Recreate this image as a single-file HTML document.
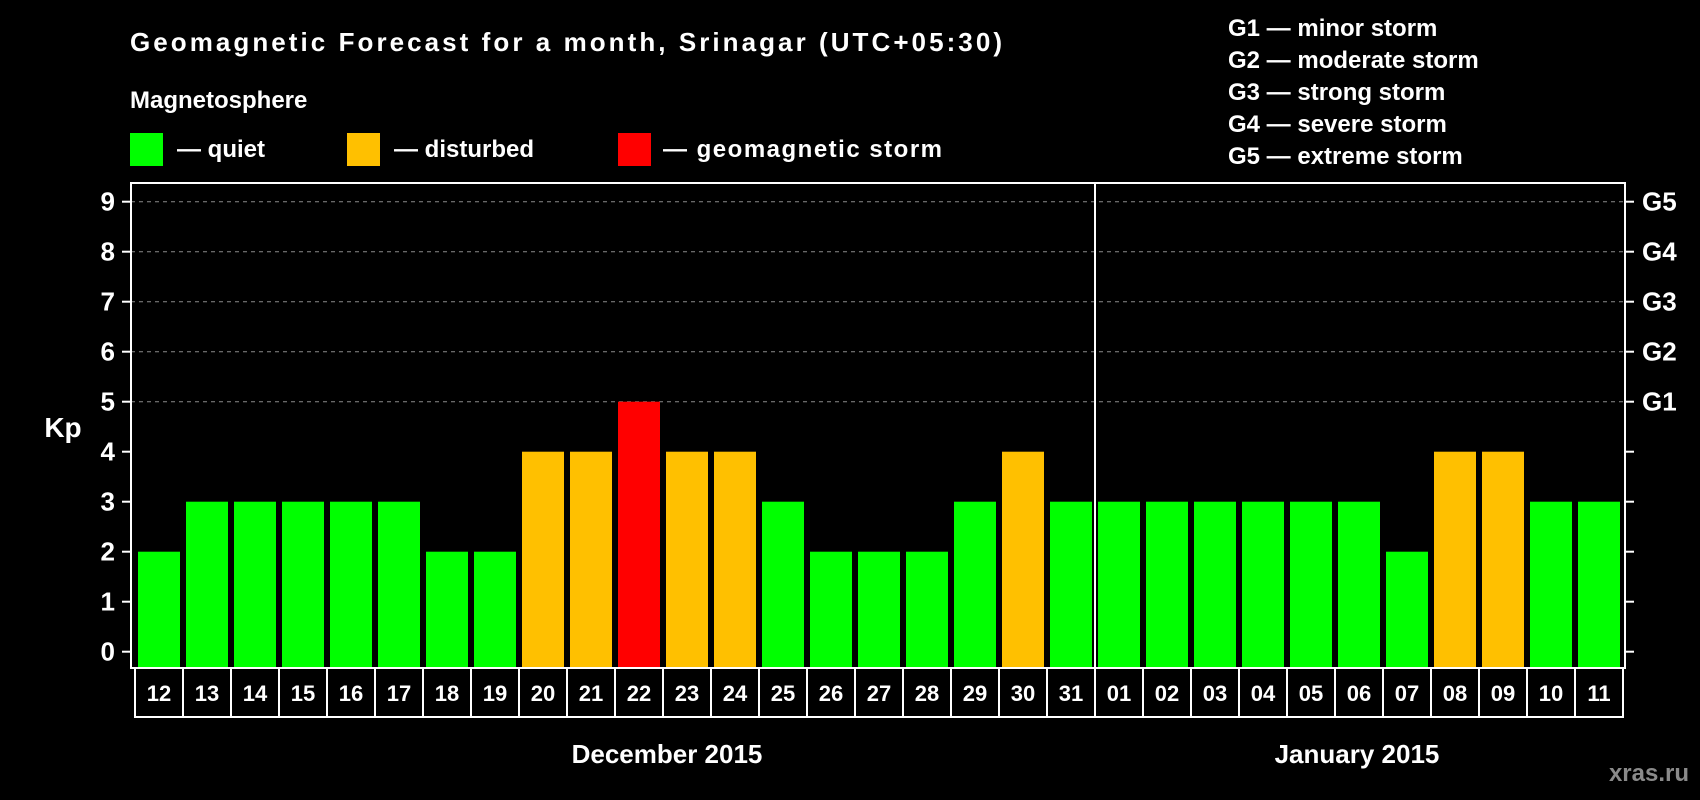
<!DOCTYPE html>
<html><head><meta charset="utf-8"><style>
html,body{margin:0;padding:0;background:#000;}
svg{display:block;font-family:"Liberation Sans",sans-serif;font-weight:bold;}
</style></head><body>
<svg id="chart" width="1700" height="800" viewBox="0 0 1700 800">
<rect width="1700" height="800" fill="#000"/>
<text x="130" y="51" fill="#fff" font-size="26" textLength="872">Geomagnetic Forecast for a month, Srinagar (UTC+05:30)</text>
<text x="130" y="108" fill="#fff" font-size="24">Magnetosphere</text>
<g><rect x="130" y="133" width="33" height="33" fill="#00ff00"/><text x="177" y="157" fill="#fff" font-size="24">— quiet</text></g>
<g><rect x="347" y="133" width="33" height="33" fill="#ffc000"/><text x="394" y="157" fill="#fff" font-size="24">— disturbed</text></g>
<g><rect x="618" y="133" width="33" height="33" fill="#ff0000"/><text x="663" y="157" fill="#fff" font-size="24" textLength="279">— geomagnetic storm</text></g>
<g fill="#fff" font-size="24">
<text x="1228" y="36">G1 — minor storm</text>
<text x="1228" y="68">G2 — moderate storm</text>
<text x="1228" y="100">G3 — strong storm</text>
<text x="1228" y="132">G4 — severe storm</text>
<text x="1228" y="164">G5 — extreme storm</text>
</g>
<text x="63" y="437" fill="#fff" font-size="28" text-anchor="middle">Kp</text>
<text x="667" y="763" fill="#fff" font-size="26" text-anchor="middle">December 2015</text>
<text x="1357" y="763" fill="#fff" font-size="26" text-anchor="middle">January 2015</text>
<text x="1689" y="781" fill="#8a8a8a" font-size="24" text-anchor="end">xras.ru</text>
<g id="grid"></g><g id="bars"></g><g id="axes"></g><g id="xlabels"></g>
</svg>
<script>
const days = ["12","13","14","15","16","17","18","19","20","21","22","23","24","25","26","27","28","29","30","31","01","02","03","04","05","06","07","08","09","10","11"];
const kpValues = [2,3,3,3,3,3,2,2,4,4,5,4,4,3,2,2,2,3,4,3,3,3,3,3,3,3,2,4,4,3,3];
const yTicks = [0,1,2,3,4,5,6,7,8,9];
const gLabels = ["G1","G2","G3","G4","G5"];
const gLevels = [5,6,7,8,9];
const monthBreakIndex = 20;

const NS="http://www.w3.org/2000/svg";
const L=131,R=1625,T=183,B=668,bx0=135,pitch=48,bw=42;
const y=v=>651.7-50*v;
const x=i=>bx0+i*pitch;
function mk(tag,attrs,parent){const e=document.createElementNS(NS,tag);for(const k in attrs)e.setAttribute(k,attrs[k]);parent.appendChild(e);return e;}
const grid=document.getElementById('grid'),bars=document.getElementById('bars'),axes=document.getElementById('axes'),xl=document.getElementById('xlabels');
gLevels.forEach((v,k)=>{
  const ln=mk('line',{x1:L,x2:R,y1:y(v),y2:y(v),stroke:'#8a8a8a','stroke-width':1,'stroke-dasharray':'4 4'},grid);
  
  
  const t=mk('text',{x:1642,y:y(v)+9,fill:'#fff','font-size':26},axes);t.textContent=gLabels[k];
  
  
});
kpValues.forEach((v,i)=>{
  const c=v>=5?'#ff0000':(v>=4?'#ffc000':'#00ff00');
  const r=mk('rect',{x:x(i)+3,y:y(v),width:bw,height:B-y(v),fill:c},bars);
  
  
  const t=mk('text',{x:x(i)+pitch/2,y:701,fill:'#fff','font-size':22,'text-anchor':'middle'},xl);t.textContent=days[i];
  
  
  const s=mk('line',{x1:x(i),x2:x(i),y1:669,y2:717,stroke:'#fff','stroke-width':2},xl);
  
  
});
const last=mk('line',{x1:x(days.length),x2:x(days.length),y1:669,y2:717,stroke:'#fff','stroke-width':2},xl);


const bot=mk('line',{x1:x(0)-1,x2:x(days.length)+1,y1:717,y2:717,stroke:'#fff','stroke-width':2},xl);


const frame=mk('rect',{x:L,y:T,width:R-L,height:B-T,fill:'none',stroke:'#fff','stroke-width':2},axes);


const div=mk('line',{x1:x(monthBreakIndex),x2:x(monthBreakIndex),y1:T,y2:B,stroke:'#fff','stroke-width':2},axes);


yTicks.forEach(v=>{
  const a=mk('line',{x1:122,x2:L,y1:y(v),y2:y(v),stroke:'#fff','stroke-width':2},axes);
  
  
  const b=mk('line',{x1:R,x2:1634,y1:y(v),y2:y(v),stroke:'#fff','stroke-width':2},axes);
  
  
  const t=mk('text',{x:115,y:y(v)+9,fill:'#fff','font-size':26,'text-anchor':'end'},axes);t.textContent=v;
  
  
});
</script>
</body></html>
